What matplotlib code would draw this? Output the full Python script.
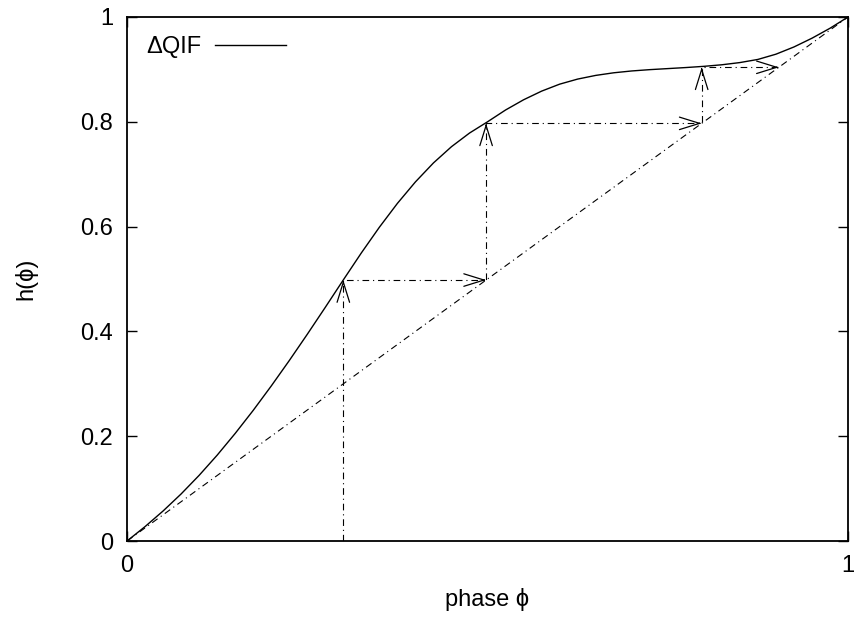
import numpy as np
import matplotlib
matplotlib.use("Agg")
import matplotlib.pyplot as plt

plt.rcParams['font.family'] = ['Liberation Sans', 'DejaVu Sans']

# phase response curve h(phi)
phi = [0.0, 0.025, 0.05, 0.075, 0.1, 0.125, 0.15, 0.175, 0.2, 0.225, 0.25, 0.275,
       0.3, 0.325, 0.35, 0.375, 0.4, 0.425, 0.45, 0.475, 0.5, 0.525, 0.55, 0.575,
       0.6, 0.625, 0.65, 0.675, 0.7, 0.725, 0.75, 0.775, 0.8, 0.825, 0.85, 0.875,
       0.9, 0.925, 0.95, 0.975, 1.0]
h = [0.0, 0.0275, 0.0573, 0.0898, 0.1253, 0.1638, 0.2053, 0.2493, 0.2958, 0.3443,
     0.3945, 0.446, 0.4983, 0.5498, 0.5988, 0.6443, 0.6853, 0.7215, 0.7525, 0.7785,
     0.8, 0.8225, 0.842, 0.8585, 0.8718, 0.8815, 0.8885, 0.8935, 0.897, 0.8995,
     0.9015, 0.9035, 0.9058, 0.9088, 0.913, 0.919, 0.929, 0.9428, 0.9595, 0.9785, 1.0]

# cobweb iteration points
web_x = [0.3, 0.3, 0.498, 0.498, 0.797, 0.797, 0.904]
web_y = [0.0, 0.498, 0.498, 0.797, 0.797, 0.904, 0.904]

fig = plt.figure(figsize=(8.56, 6.22), dpi=100)
ax = fig.add_axes([0.1484, 0.1302, 0.8423, 0.8425])

ax.plot(phi, h, color='black', lw=1.0, label='ΔQIF')

dd = (0, (6, 3.5, 1, 3.5))
ax.plot([0, 1], [0, 1], color='black', lw=0.8, linestyle=dd)
ax.plot(web_x, web_y, color='black', lw=0.8, linestyle=dd)

# open arrow heads at the end of every step
for i in range(len(web_x) - 1):
    x0, y0 = web_x[i], web_y[i]
    x1, y1 = web_x[i + 1], web_y[i + 1]
    dx, dy = x1 - x0, y1 - y0
    n = np.hypot(dx, dy)
    ax.annotate('', xy=(x1, y1), xytext=(x1 - 0.004 * dx / n, y1 - 0.004 * dy / n),
                arrowprops=dict(arrowstyle='->,head_length=1.45,head_width=0.45',
                                mutation_scale=10, lw=0.9, color='black',
                                shrinkA=0, shrinkB=0))

ax.set_xlim(0, 1)
ax.set_ylim(0, 1)
ax.set_xticks([0, 1])
ax.set_xticklabels(['0', '1'])
ax.set_yticks([0, 0.2, 0.4, 0.6, 0.8, 1.0])
ax.set_yticklabels(['0', '0.2', '0.4', '0.6', '0.8', '1'])
ax.tick_params(direction='in', length=7, width=1.0, labelsize=17, pad=10,
               right=True, top=True)
for s in ax.spines.values():
    s.set_linewidth(1.3)

ax.set_xlabel('phase ϕ', fontsize=17, labelpad=8)
ax.set_ylabel('h(ϕ)', fontsize=17, labelpad=31)

ax.legend(loc='upper left', frameon=False, markerfirst=False, fontsize=17,
          handlelength=3.0, handletextpad=0.6, borderaxespad=0.4)

fig.savefig('out.png', dpi=100)
